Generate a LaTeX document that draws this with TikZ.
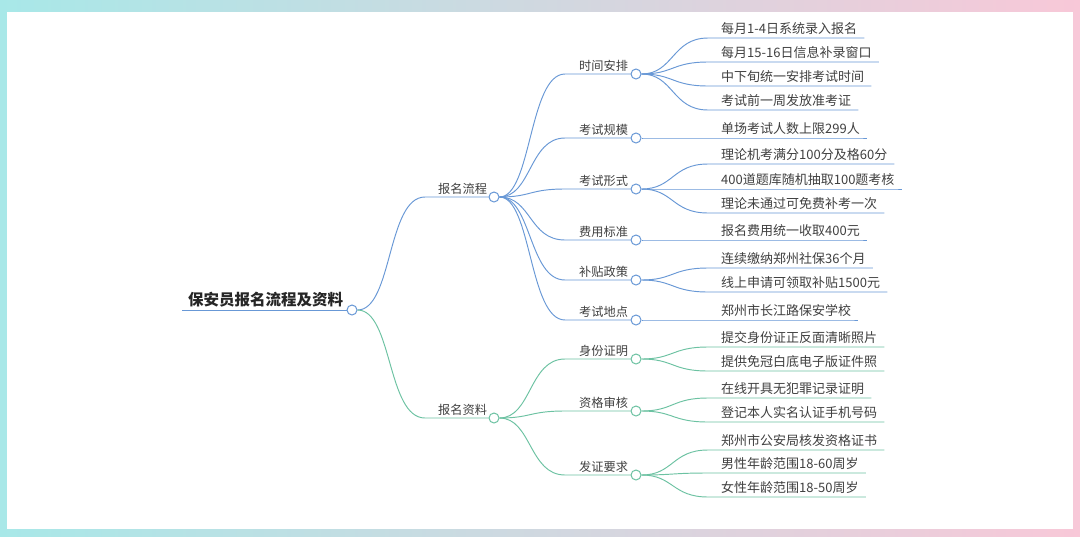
\documentclass[tikz,border=0pt]{standalone}
\usepackage{fontspec}
\newfontfamily\cjk{Noto Sans CJK SC}
\usetikzlibrary{calc}
\definecolor{bl}{RGB}{104,152,214}
\definecolor{gr}{RGB}{108,194,162}
\definecolor{txt}{RGB}{64,64,64}
\definecolor{cy}{RGB}{168,232,232}
\definecolor{pk}{RGB}{248,200,216}
\tikzset{
  dot/.style={circle, draw=#1, fill=white, line width=1pt, minimum size=10pt, inner sep=0pt},
  conn/.style={draw=#1, line width=0.95pt},
  rootlbl/.style={font=\cjk\bfseries\fontsize{15.5}{18}\selectfont, text=black!85, anchor=base west, inner sep=0pt},
  midlbl/.style={font=\cjk\fontsize{12.2}{14}\selectfont, text=txt, anchor=base west, inner sep=0pt},
  leaflbl/.style={font=\cjk\fontsize{13}{15}\selectfont, text=txt, anchor=base west, inner sep=0pt}
}
\begin{document}
\begin{tikzpicture}[x=1pt,y=-1pt]
\useasboundingbox (0,0) rectangle (1080,536);
\shade[left color=cy, right color=pk] (0,0) rectangle (1080,536);
\fill[white] (7,12) rectangle (1073,529);

% root
\node[rootlbl] (root) at (188,305) {保安员报名流程及资料};
\node[dot=bl] (rc) at (352,310) {};
\coordinate (rs) at (182,310);
\draw[conn=bl] (rs) -- (rc.west);

% level 1
\node[midlbl] (b1) at (438,193) {报名流程};
\node[dot=bl] (b1c) at (494,197) {};
\coordinate (b1s) at (425,197);
\draw[conn=bl] (rc.east) .. controls +(35,0) and +(-38,0) .. (b1s) -- (b1c.west);

\node[midlbl] (b2) at (438,414) {报名资料};
\node[dot=gr] (b2c) at (494,418) {};
\coordinate (b2s) at (425,418);
\draw[conn=gr] (rc.east) .. controls +(35,0) and +(-38,0) .. (b2s) -- (b2c.west);

% level 2 (blue)
\foreach \n/\y/\t in {m1/74/时间安排, m2/138/考试规模, m3/189/考试形式, m4/240/费用标准, m5/280/补贴政策, m6/320/考试地点}{
  \node[midlbl] (\n) at (579,\y-4) {\t};
  \node[dot=bl] (\n c) at (636,\y) {};
  \coordinate (\n s) at (565,\y);
  \draw[conn=bl] (b1c.east) .. controls +(32,0) and +(-36,0) .. (\n s) -- (\n c.west);
}
% level 2 (green)
\foreach \n/\y/\t in {m7/359/身份证明, m8/411/资格审核, m9/475/发证要求}{
  \node[midlbl] (\n) at (579,\y-4) {\t};
  \node[dot=gr] (\n c) at (636,\y) {};
  \coordinate (\n s) at (565,\y);
  \draw[conn=gr] (b2c.east) .. controls +(32,0) and +(-36,0) .. (\n s) -- (\n c.west);
}

% leaves (blue)
\foreach \p/\n/\y/\t in {m1/l1/38/每月1-4日系统录入报名, m1/l2/62/每月15-16日信息补录窗口, m1/l3/86/中下旬统一安排考试时间, m1/l4/110/考试前一周发放准考证,
  m2/l5/138/单场考试人数上限299人,
  m3/l6/164/理论机考满分100分及格60分, m3/l7/189/400道题库随机抽取100题考核, m3/l8/213/理论未通过可免费补考一次,
  m4/l9/240/报名费用统一收取400元,
  m5/l10/268/连续缴纳郑州社保36个月, m5/l11/292/线上申请可领取补贴1500元,
  m6/l12/320/郑州市长江路保安学校}{
  \node[leaflbl] (\n) at (721,\y-5) {\t};
  \coordinate (\n s) at (708,\y);
  \draw[conn=bl] (\p c.east) .. controls +(32,0) and +(-36,0) .. (\n s) -- (\n s -| \n.east) -- ++(7,0);
}
% leaves (green)
\foreach \p/\n/\y/\t in {m7/l13/347/提交身份证正反面清晰照片, m7/l14/371/提供免冠白底电子版证件照,
  m8/l15/398/在线开具无犯罪记录证明, m8/l16/422/登记本人实名认证手机号码,
  m9/l17/450/郑州市公安局核发资格证书, m9/l18/473/男性年龄范围18-60周岁, m9/l19/497/女性年龄范围18-50周岁}{
  \node[leaflbl] (\n) at (721,\y-5) {\t};
  \coordinate (\n s) at (708,\y);
  \draw[conn=gr] (\p c.east) .. controls +(32,0) and +(-36,0) .. (\n s) -- (\n s -| \n.east) -- ++(7,0);
}
\end{tikzpicture}
\end{document}
